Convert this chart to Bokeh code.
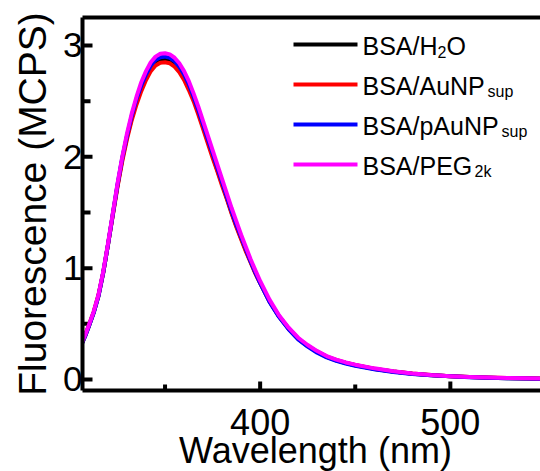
from bokeh.plotting import figure
from bokeh.layouts import column
from bokeh.models import Range1d, FixedTicker, LinearAxis, Label
from bokeh.embed import file_html
from bokeh.resources import INLINE

# ---------------- data ----------------
wavelength = [306, 308, 310, 312.5, 315, 317.5, 320, 322.5, 325, 327.5, 330, 332.5, 335, 337.5,
              340, 342.5, 345, 347.5, 350, 352.5, 355, 357.5, 360, 362.5, 365, 367.5, 370, 372.5,
              375, 377.5, 380, 382.5, 385, 387.5, 390, 392.5, 395, 397.5, 400, 405, 410, 415,
              420, 425, 430, 435, 440, 445, 450, 460, 470, 480, 490, 500, 510, 520, 530, 540, 550]

bsa_h2o = [0.31, 0.39, 0.48, 0.60, 0.75, 0.96, 1.21, 1.48, 1.74,
           1.98, 2.18, 2.35, 2.50, 2.62, 2.72, 2.79, 2.84, 2.865, 2.87,
           2.86, 2.83, 2.78, 2.71, 2.62, 2.52, 2.40, 2.27, 2.14, 2.01,
           1.88, 1.76, 1.63, 1.50, 1.38, 1.27, 1.16, 1.06, 0.96, 0.87,
           0.70, 0.565, 0.455, 0.365, 0.30, 0.247, 0.203, 0.172, 0.148, 0.128,
           0.095, 0.071, 0.052, 0.039, 0.029, 0.022, 0.016, 0.012, 0.009, 0.007]

bsa_aunp = [0.32, 0.40, 0.49, 0.61, 0.76, 0.96, 1.21, 1.47, 1.73,
            1.96, 2.16, 2.33, 2.47, 2.59, 2.69, 2.77, 2.82, 2.845, 2.85,
            2.84, 2.81, 2.76, 2.69, 2.60, 2.50, 2.38, 2.25, 2.12, 1.99,
            1.87, 1.74, 1.62, 1.49, 1.37, 1.26, 1.15, 1.05, 0.95, 0.865,
            0.70, 0.565, 0.457, 0.368, 0.303, 0.25, 0.206, 0.175, 0.15, 0.13,
            0.097, 0.072, 0.053, 0.04, 0.03, 0.022, 0.017, 0.013, 0.010, 0.008]

bsa_paunp = [0.31, 0.39, 0.48, 0.60, 0.75, 0.96, 1.21, 1.48, 1.75,
             1.99, 2.19, 2.37, 2.52, 2.64, 2.74, 2.82, 2.87, 2.895, 2.90,
             2.89, 2.86, 2.81, 2.74, 2.65, 2.54, 2.42, 2.29, 2.16, 2.03,
             1.90, 1.77, 1.64, 1.51, 1.39, 1.28, 1.17, 1.06, 0.96, 0.865,
             0.695, 0.56, 0.45, 0.36, 0.295, 0.24, 0.198, 0.167, 0.143, 0.124,
             0.092, 0.068, 0.05, 0.037, 0.028, 0.021, 0.016, 0.012, 0.009, 0.007]

bsa_peg2k = [0.32, 0.40, 0.49, 0.61, 0.76, 0.97, 1.22, 1.49, 1.76,
             2.00, 2.21, 2.39, 2.54, 2.67, 2.77, 2.85, 2.90, 2.925, 2.93,
             2.92, 2.89, 2.84, 2.77, 2.68, 2.57, 2.45, 2.32, 2.19, 2.06,
             1.93, 1.80, 1.67, 1.54, 1.42, 1.30, 1.19, 1.08, 0.98, 0.885,
             0.715, 0.575, 0.465, 0.375, 0.31, 0.255, 0.21, 0.178, 0.153, 0.133,
             0.10, 0.074, 0.054, 0.04, 0.03, 0.022, 0.017, 0.013, 0.010, 0.008]

series_main = ["BSA/H", "BSA/AuNP", "BSA/pAuNP", "BSA/PEG"]
series_sub = ["2", "sup", "sup", "2k"]
series_tail = ["O", "", "", ""]
series_colors = ["#000000", "#ff0000", "#0000ff", "#ff00ff"]

x_ticks = [400, 500]
x_tick_labels = ["400", "500"]
x_minor = [350, 450]
y_ticks = [0, 1, 2, 3]
y_minor = [0.5, 1.5, 2.5]
x_title = "Wavelength (nm)"
y_title = "Fluorescence (MCPS)"

# ---------------- layout ----------------
X0, X1 = 306.6, 547.4
Y0, Y1 = -0.099, 3.2515
FL, FR, FT, FB = 82, 540, 17, 390
H_MAIN = 400
H_BOTTOM = 471 - H_MAIN
FONT = "Liberation Sans"

def dx(px):
    return X0 + (px - FL) / (FR - FL) * (X1 - X0)

def dy(py):
    return Y0 + (FB - py) / (FB - FT) * (Y1 - Y0)

def base_shift(fs):
    # empirical offset between requested and rendered alphabetic baseline
    return 0.32 * fs

xr = Range1d(X0, X1)
p = figure(width=540, height=H_MAIN, output_backend="svg", toolbar_location=None,
           x_range=xr, y_range=Range1d(Y0, Y1),
           min_border_left=FL, min_border_right=0, min_border_top=FT,
           min_border_bottom=H_MAIN - FB)
p.outline_line_color = None
p.grid.visible = False
p.background_fill_color = "white"
p.border_fill_color = "white"

for ax in (p.xaxis[0], p.yaxis[0]):
    ax.axis_line_width = 4
    ax.major_tick_in = 0
    ax.major_tick_out = 0
    ax.minor_tick_in = 0
    ax.minor_tick_out = 0
    ax.major_label_text_font = FONT
    ax.major_label_text_color = "black"
    ax.axis_label_text_font = FONT
    ax.axis_label_text_font_style = "normal"
    ax.axis_label_text_color = "black"

xa = p.xaxis[0]
xa.ticker = FixedTicker(ticks=[], minor_ticks=[])
xa.major_label_standoff = 0

ya = p.yaxis[0]
ya.ticker = FixedTicker(ticks=y_ticks, minor_ticks=y_minor)
ya.major_label_text_font_size = "35px"
ya.major_label_standoff = 0
ya.axis_label = y_title
ya.axis_label_text_font_size = "39px"
ya.axis_label_standoff = 6

top = LinearAxis(ticker=FixedTicker(ticks=[], minor_ticks=[]),
                 major_tick_in=0, major_tick_out=0, minor_tick_in=0, minor_tick_out=0,
                 major_label_standoff=0, axis_line_width=4)
p.add_layout(top, "above")

# inward ticks
p.segment(x0=[X0] * len(y_ticks), y0=y_ticks, x1=[dx(FL + 10)] * len(y_ticks), y1=y_ticks,
          line_color="black", line_width=4)
p.segment(x0=[X0] * len(y_minor), y0=y_minor, x1=[dx(FL + 8)] * len(y_minor), y1=y_minor,
          line_color="black", line_width=4)
p.segment(x0=x_ticks, y0=[Y0] * len(x_ticks), x1=x_ticks, y1=[dy(FB - 9)] * len(x_ticks),
          line_color="black", line_width=4)
p.segment(x0=x_minor, y0=[Y0] * len(x_minor), x1=x_minor, y1=[dy(FB - 6)] * len(x_minor),
          line_color="black", line_width=4)

all_series = [bsa_h2o, bsa_aunp, bsa_paunp, bsa_peg2k]
for vals, col in zip(all_series, series_colors):
    p.line(wavelength, vals, line_color=col, line_width=4, line_join="round")

# ---------------- legend (manual, for subscripts) ----------------
row_y = [44, 84, 124, 164]
sub_x = [437, 487, 501, 474]
for i in range(4):
    yc = row_y[i]
    p.segment(x0=[dx(293)], y0=[dy(yc)], x1=[dx(357)], y1=[dy(yc)],
              line_color=series_colors[i], line_width=4)
    p.add_layout(Label(x=dx(362), y=dy(yc + 1), text=series_main[i],
                       text_font=FONT, text_font_size="25px", text_color="black",
                       text_baseline="alphabetic", text_align="left"))
    p.add_layout(Label(x=dx(sub_x[i]), y=dy(yc + 7), text=series_sub[i],
                       text_font=FONT, text_font_size="16px", text_color="black",
                       text_baseline="alphabetic", text_align="left"))
    if series_tail[i]:
        p.add_layout(Label(x=dx(sub_x[i] + 9), y=dy(yc + 1), text=series_tail[i],
                           text_font=FONT, text_font_size="25px", text_color="black",
                           text_baseline="alphabetic", text_align="left"))

# ---------------- x tick labels and x title (strip below the frame) ----------------
p2 = figure(width=540, height=H_BOTTOM, output_backend="svg", toolbar_location=None,
            x_range=xr, y_range=Range1d(H_BOTTOM, 0),
            x_axis_type=None, y_axis_type=None,
            min_border_left=FL, min_border_right=0, min_border_top=0, min_border_bottom=0)
p2.outline_line_color = None
p2.grid.visible = False
p2.background_fill_color = "white"
p2.border_fill_color = "white"

TICK_FS, TITLE_FS = 36, 36
for xv, lab in zip(x_ticks, x_tick_labels):
    p2.add_layout(Label(x=xv, y=433 - base_shift(TICK_FS) - H_MAIN, text=lab,
                        text_font=FONT, text_font_size=f"{TICK_FS}px", text_color="black",
                        text_align="center", text_baseline="alphabetic"))
p2.add_layout(Label(x=dx(315), y=462 - base_shift(TITLE_FS) - H_MAIN, text=x_title,
                    text_font=FONT, text_font_size=f"{TITLE_FS}px", text_color="black",
                    text_align="center", text_baseline="alphabetic"))

open("out.html", "w").write(file_html(column(p, p2, spacing=0), INLINE))
